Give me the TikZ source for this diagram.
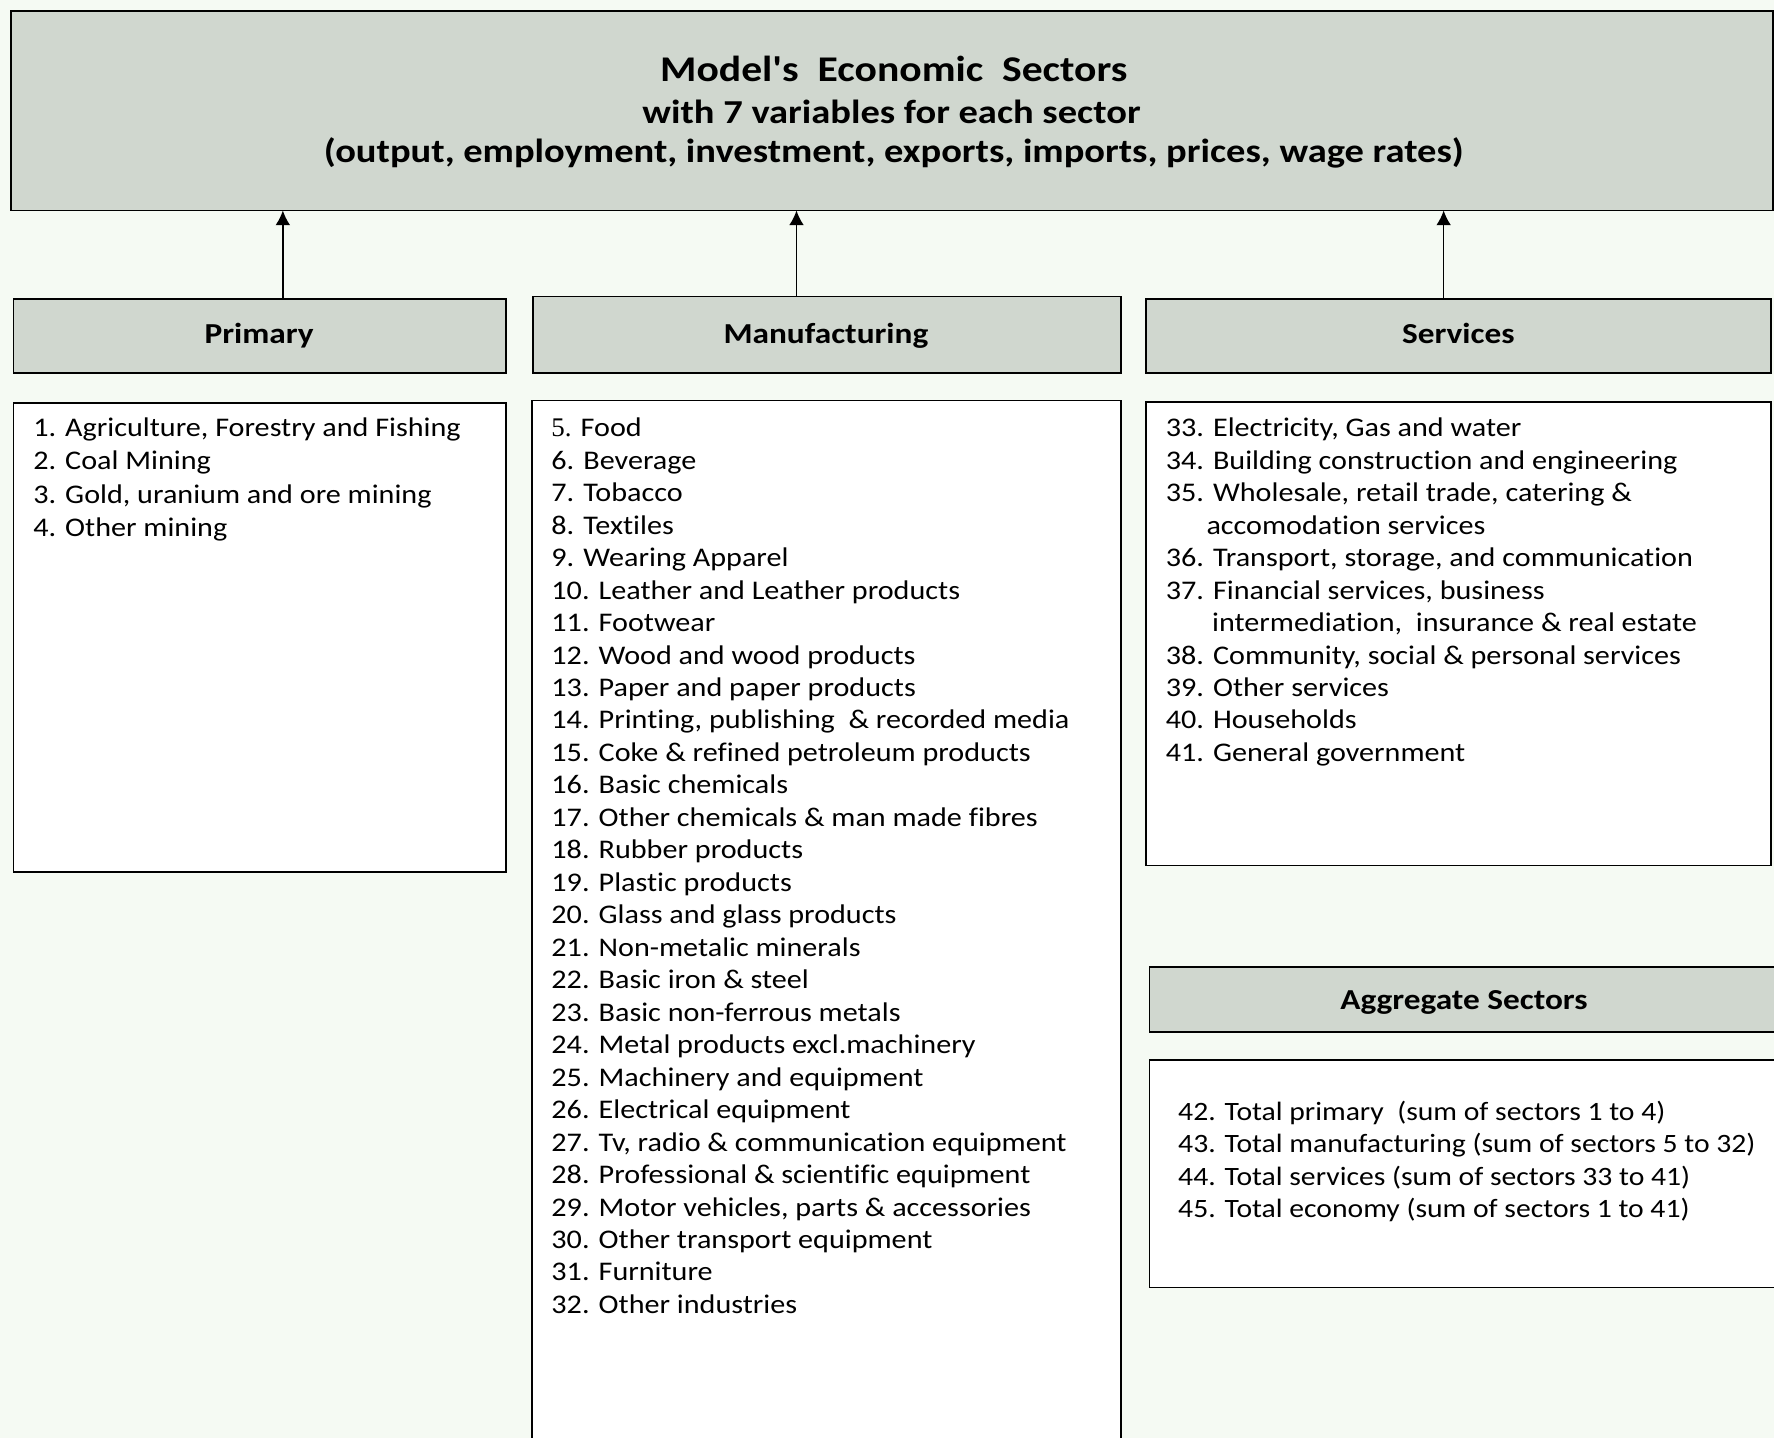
\documentclass[tikz,border=0pt]{standalone}
\usepackage{fontspec}
\setmainfont{Carlito}[Ligatures={NoCommon}]
\newfontfamily\listfont[FakeStretch=1.12,Ligatures={NoCommon}]{Carlito}
\newfontfamily\headfont[FakeStretch=1.15,Ligatures={NoCommon}]{Carlito}
\newfontfamily\numfont{Liberation Serif}
\usetikzlibrary{arrows.meta}
\definecolor{pagebg}{HTML}{F5FAF3}
\definecolor{headfill}{HTML}{D0D7CF}
\tikzset{
  x=0.5pt, y=-0.5pt,
  frame/.style={draw=black, line width=0.8pt},
  headbox/.style={frame, fill=headfill},
  listbox/.style={frame, fill=white},
  headtext/.style={anchor=base, inner sep=0pt, font=\headfont\bfseries\fontsize{12.8}{15}\selectfont},
  titletext/.style={inner sep=0pt, font=\headfont\bfseries\fontsize{14.8}{17}\selectfont},
  item/.style={anchor=base west, inner sep=0pt, font=\listfont\fontsize{11.9}{14}\selectfont},
  aggitem/.style={item, font=\listfont\fontsize{11.7}{14}\selectfont},
  uparrow/.style={-{Latex[length=6.5pt,width=6.5pt]}, line width=0.7pt},
}
\begin{document}
\begin{tikzpicture}
\useasboundingbox (0,0) rectangle (1568,1271);
\fill[pagebg] (0,0) rectangle (1568,1271);
\clip (0,0) rectangle (1568,1271);

% title box
\draw[headbox] (10,10) rectangle (1567,186);
\coordinate (topbox-s) at (250,186);
\coordinate (topbox-m) at (704,186);
\coordinate (topbox-e) at (1276,186);
\node[inner sep=0pt, font=\headfont\bfseries\fontsize{16}{18}\selectfont] (t1) at (790,61) {Model's\ \ Economic\ \ Sectors};
\node[titletext] (t2) at (788,99) {with 7 variables for each sector};
\node[titletext] (t3) at (790,135) {(output, employment, investment, exports, imports, prices, wage rates)};

% group headers
\draw[headbox] (12,264) rectangle (447,330);
\node[headtext] (primary) at (229,304) {Primary};
\draw[headbox] (471,262) rectangle (991,330);
\node[headtext] (manuf) at (730,304) {Manufacturing};
\draw[headbox] (1013,264) rectangle (1565,330);
\node[headtext] (serv) at (1289,304) {Services};
\coordinate (primary-top) at (250,263);
\coordinate (manuf-top) at (704,262);
\coordinate (serv-top) at (1276,263);

\draw[uparrow] (primary-top) -- (topbox-s);
\draw[uparrow] (manuf-top) -- (topbox-m);
\draw[uparrow] (serv-top) -- (topbox-e);

% list boxes
\draw[listbox] (12,356) rectangle (447,771);
\draw[listbox] (470,354) rectangle (991,1290);
\draw[listbox] (1013,355) rectangle (1565,765);

% aggregate sectors
\draw[headbox] (1016,855) rectangle (1590,912);
\node[headtext] (aggr) at (1294,892) {Aggregate Sectors};
\draw[listbox] (1016,937) rectangle (1590,1138);

% primary items
\foreach \t [count=\i] in {
  {1. Agriculture, Forestry and Fishing},
  {2. Coal\ Mining},
  {3. Gold, uranium and ore mining},
  {4. Other mining}}
  \node[item] (p\i) at (29,{386+29.3*(\i-1)}) {\t};

% manufacturing items
\node[item] (m1) at (487,386) {{\numfont 5.} Food};
\foreach \t [count=\i from 2] in {
  {6. Beverage},
  {7. Tobacco},
  {8. Textiles},
  {9. Wearing Apparel},
  {10. Leather and Leather products},
  {11. Footwear},
  {12. Wood and wood products},
  {13. Paper and paper products},
  {14. Printing, publishing\ \ \& recorded media},
  {15. Coke \& refined petroleum products},
  {16. Basic chemicals},
  {17. Other chemicals \& man made fibres},
  {18. Rubber products},
  {19. Plastic products},
  {20. Glass and glass products},
  {21. Non-metalic minerals},
  {22. Basic iron \& steel},
  {23. Basic non-ferrous metals},
  {24. Metal products excl.machinery},
  {25. Machinery and equipment},
  {26. Electrical equipment},
  {27. Tv, radio \& communication equipment},
  {28. Professional \& scientific equipment},
  {29. Motor vehicles, parts \& accessories},
  {30. Other transport equipment},
  {31. Furniture},
  {32. Other industries}}
  \node[item] (m\i) at (487,{386+28.7*(\i-1)}) {\t};

% services items
\foreach \t/\xx [count=\i] in {
  {33. Electricity, Gas and water}/1030,
  {34. Building construction and engineering}/1030,
  {35. Wholesale, retail trade, catering \&}/1030,
  {accomodation services}/1066,
  {36. Transport, storage, and communication}/1030,
  {37. Financial services, business}/1030,
  {intermediation,\ \ insurance \& real estate}/1071,
  {38. Community, social \& personal services}/1030,
  {39. Other services}/1030,
  {40. Households}/1030,
  {41. General government}/1030}
  \node[item] (s\i) at (\xx,{386+28.7*(\i-1)}) {\t};

% aggregate items
\foreach \t [count=\i] in {
  {42. Total primary\ \ (sum of sectors 1 to 4)},
  {43. Total manufacturing (sum of sectors 5 to 32)},
  {44. Total services (sum of sectors 33 to 41)},
  {45. Total economy (sum of sectors 1 to 41)}}
  \node[aggitem] (a\i) at (1041,{990+28.7*(\i-1)}) {\t};
\end{tikzpicture}
\end{document}
